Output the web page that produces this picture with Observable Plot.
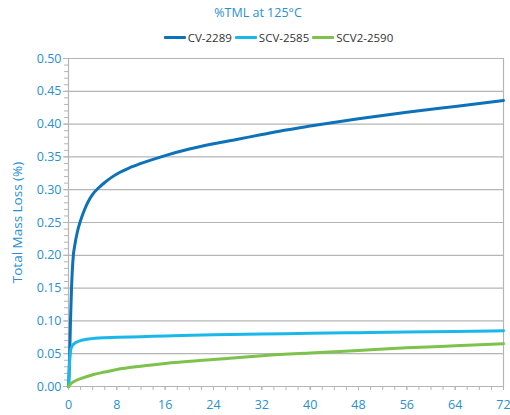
<!DOCTYPE html>
<html><head><meta charset="utf-8">
<script src="https://cdn.jsdelivr.net/npm/d3@7"></script>
<script src="https://cdn.jsdelivr.net/npm/@observablehq/plot@0.6"></script>
<style>
body{margin:0;background:#fff;font-family:"Open Sans",sans-serif;}
#wrap{width:510px;height:415px;position:relative;}
#title{height:26px;line-height:26px;text-align:center;color:#2a8fd0;font-size:12.5px;padding-left:6px;}
#legend{height:22px;display:flex;justify-content:center;align-items:center;padding-left:50px;font-size:11.5px;color:#333;}
.it{display:flex;align-items:center;margin-right:3px;}
.sw{width:22px;height:3px;margin-right:2px;border-radius:1px;}
</style></head>
<body><div id="wrap"><div id="title"></div><div id="legend"></div><div id="chart"></div></div>
<script>
const title = "%TML at 125°C";
const yLabel = "Total Mass Loss (%)";
const seriesNames = ["CV-2289", "SCV-2585", "SCV2-2590"];
const seriesColors = ["#0d72b9", "#1ab7ea", "#7dc24b"];
const xTicks = [0, 8, 16, 24, 32, 40, 48, 56, 64, 72];
const yTicks = [0, 0.05, 0.10, 0.15, 0.20, 0.25, 0.30, 0.35, 0.40, 0.45, 0.50];

const cvHours = [0, 0.1, 0.2, 0.33, 0.5, 0.8, 1.0, 1.5, 2, 2.5, 3, 3.5, 4, 5, 6, 7, 8, 10, 12, 16, 20, 24, 28, 32, 36, 40, 48, 56, 64, 72];
const cvValues = [0, 0.02, 0.05, 0.10, 0.15, 0.20, 0.213, 0.237, 0.253, 0.266, 0.277, 0.286, 0.293, 0.303, 0.311, 0.318, 0.324, 0.333, 0.340, 0.352, 0.362, 0.370, 0.377, 0.384, 0.391, 0.397, 0.408, 0.418, 0.427, 0.436];
const scvHours = [0, 0.1, 0.2, 0.33, 0.5, 0.8, 1.2, 2, 3, 5, 8, 12, 16, 24, 32, 40, 48, 56, 64, 72];
const scvValues = [0, 0.02, 0.04, 0.054, 0.060, 0.064, 0.067, 0.070, 0.072, 0.074, 0.075, 0.076, 0.077, 0.079, 0.080, 0.081, 0.082, 0.083, 0.084, 0.085];
const scv2Hours = [0, 0.5, 1, 2, 4, 6, 8, 12, 16, 24, 32, 40, 48, 56, 64, 72];
const scv2Values = [0, 0.005, 0.008, 0.012, 0.018, 0.022, 0.026, 0.031, 0.035, 0.041, 0.047, 0.051, 0.055, 0.059, 0.062, 0.065];

const data = [];
[[cvHours, cvValues], [scvHours, scvValues], [scv2Hours, scv2Values]].forEach(([hs, vs], i) => {
  hs.forEach((h, j) => data.push({series: seriesNames[i], x: h, y: vs[j]}));
});

document.getElementById("title").textContent = title;
const lg = document.getElementById("legend");
seriesNames.forEach((n, i) => {
  const d = document.createElement("div"); d.className = "it";
  d.innerHTML = `<span class="sw" style="background:${seriesColors[i]}"></span><span>${n}</span>`;
  lg.appendChild(d);
});

const lblColor = "#2a8fd0";
const gray = "#b5b5b5";
const chart = Plot.plot({
  width: 510, height: 367,
  marginLeft: 68, marginRight: 7, marginTop: 10, marginBottom: 29,
  style: {fontFamily: "Open Sans, sans-serif", fontSize: "12px", color: lblColor, background: "#fff"},
  x: {domain: [0, 72]},
  y: {domain: [0, 0.5]},
  color: {domain: seriesNames, range: seriesColors},
  marks: [
    Plot.gridY(yTicks, {stroke: gray, strokeOpacity: 1, strokeWidth: 1.2}),
    Plot.ruleX([72], {stroke: gray, strokeWidth: 1.2}),
    Plot.axisY(d3.range(0, 0.501, 0.01), {tickSize: 4, text: null, stroke: gray, label: null}),
    Plot.axisY(yTicks, {tickSize: 5, tickPadding: 2, stroke: gray, fill: lblColor, tickFormat: d3.format(".2f"), fontSize: 12.5, label: null}),
    Plot.text([yLabel], {frameAnchor: "left", textAnchor: "middle", rotate: -90, dx: -51, fontSize: 13.5, fill: lblColor}),
    Plot.axisX(d3.range(0, 73, 2), {tickSize: 4, text: null, stroke: gray, label: null}),
    Plot.axisX(xTicks, {tickSize: 4, tickPadding: 10, stroke: gray, fill: lblColor, fontSize: 12.5, label: null}),
    Plot.ruleX([0], {stroke: gray, strokeWidth: 1.2}),
    Plot.line(data, {x: "x", y: "y", z: "series", stroke: "series", strokeWidth: 3, curve: "monotone-x"})
  ]
});
document.getElementById("chart").appendChild(chart);
</script></body></html>
